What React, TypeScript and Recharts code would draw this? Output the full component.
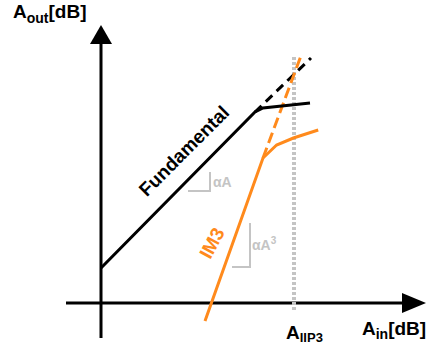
import { LineChart, Line, XAxis, YAxis, ReferenceLine, ReferenceDot } from "recharts";

// input/output levels in dB
const fundIn = [0, 38.5, 40.5, 52.25];
const fundOut = [8.75, 47.75, 48.75, 50];
const fundExtIn = [38.5, 52.5];
const fundExtOut = [47.75, 61.25];

const im3In = [26, 40.5, 43.9, 48.1, 54.3];
const im3Out = [-4.5, 36.25, 39.5, 41.25, 43.25];
const im3ExtIn = [40.5, 50.25];
const im3ExtOut = [36.25, 62.5];

const iip3 = 48.25;

const pts = (xs: number[], ys: number[]) => xs.map((x, i) => ({ x, y: ys[i] }));

const fundamental = pts(fundIn, fundOut);
const fundamentalExt = pts(fundExtIn, fundExtOut);
const im3 = pts(im3In, im3Out);
const im3Ext = pts(im3ExtIn, im3ExtOut);

const FONT = "'Liberation Sans', Arial, sans-serif";
const ORANGE = "#ff8a1c";
const GREY = "#c4c4c4";

const note = (key: string, x: number, y: number, draw: (cx: number, cy: number) => any) => (
  <ReferenceDot
    key={key}
    x={x}
    y={y}
    r={0}
    ifOverflow="visible"
    shape={(p: any) => draw(p.cx, p.cy)}
  />
);

// small "L" marker: vertical leg at x from y1 down to y0, then back to xl
const corner = (key: string, x: number, y0: number, y1: number, xl: number) => [
  <ReferenceLine key={key + "v"} segment={[{ x, y: y1 }, { x, y: y0 }]} stroke={GREY} strokeWidth={2} ifOverflow="visible" />,
  <ReferenceLine key={key + "h"} segment={[{ x: xl, y: y0 }, { x: x + 0.25, y: y0 }]} stroke={GREY} strokeWidth={2} ifOverflow="visible" />,
];

export default function App() {
  return (
    <div style={{ position: "absolute", left: 0, top: 0, background: "#fff" }}>
      <LineChart width={433} height={347} margin={{ top: 19, right: 4, bottom: 8, left: 61 }}>
        <XAxis type="number" dataKey="x" domain={[-10, 82]} hide />
        <YAxis type="number" dataKey="y" domain={[-9, 71]} hide />

        {/* axes */}
        <ReferenceLine segment={[{ x: -8.75, y: 0 }, { x: 76.5, y: 0 }]} stroke="#000" strokeWidth={3} ifOverflow="visible" />
        <ReferenceLine segment={[{ x: 0, y: -8.75 }, { x: 0, y: 65.5 }]} stroke="#000" strokeWidth={3} ifOverflow="visible" />
        {note("ya", 0, 69.5, (cx, cy) => (
          <polygon points={`${cx},${cy} ${cx - 11},${cy + 19} ${cx + 11},${cy + 19}`} fill="#000" />
        ))}
        {note("xa", 81.25, 0, (cx, cy) => (
          <polygon points={`${cx},${cy} ${cx - 24},${cy - 10} ${cx - 24},${cy + 10}`} fill="#000" />
        ))}

        {/* IIP3 marker */}
        <ReferenceLine segment={[{ x: iip3, y: -1.75 }, { x: iip3, y: 62 }]} stroke={GREY} strokeWidth={4} strokeDasharray="3 2" ifOverflow="visible" />

        {/* slope markers */}
        {corner("c1", 27.25, 28, 32.75, 21.75)}
        {corner("c3", 37.25, 9, 20, 32.75)}

        <Line data={fundamentalExt} dataKey="y" stroke="#000" strokeWidth={3} strokeDasharray="9 6" dot={false} isAnimationActive={false} />
        <Line data={im3Ext} dataKey="y" stroke={ORANGE} strokeWidth={3} strokeDasharray="11 5" dot={false} isAnimationActive={false} />
        <Line data={fundamental} dataKey="y" stroke="#000" strokeWidth={3} dot={false} isAnimationActive={false} />
        <Line data={im3} dataKey="y" stroke={ORANGE} strokeWidth={3} dot={false} isAnimationActive={false} />

        {note("fl", 20.75, 38, (cx, cy) => (
          <text x={cx} y={cy} transform={`rotate(-45 ${cx} ${cy})`} textAnchor="middle" dominantBaseline="central"
            fontFamily={FONT} fontWeight="bold" fontSize={19} fill="#000">Fundamental</text>
        ))}
        {note("il", 27.75, 15, (cx, cy) => (
          <text x={cx} y={cy} transform={`rotate(-62 ${cx} ${cy})`} textAnchor="middle" dominantBaseline="central"
            fontFamily={FONT} fontWeight="bold" fontSize={19} fill={ORANGE}>IM3</text>
        ))}
        {note("s1", 28, 29, (cx, cy) => (
          <text x={cx} y={cy} fontFamily={FONT} fontWeight="bold" fontSize={14} fill={GREY}>αA</text>
        ))}
        {note("s3", 37.75, 13.25, (cx, cy) => (
          <text x={cx} y={cy} fontFamily={FONT} fontWeight="bold" fontSize={14} fill={GREY}>
            αA<tspan fontSize={10} dy={-6}>3</tspan>
          </text>
        ))}

        {note("yl", -22, 71.25, (cx, cy) => (
          <text x={cx} y={cy} fontFamily={FONT} fontWeight="bold" fontSize={19} fill="#000">
            A<tspan fontSize={14} dy={5}>out</tspan><tspan dy={-5}>[dB]</tspan>
          </text>
        ))}
        {note("xl", 65.25, -8, (cx, cy) => (
          <text x={cx} y={cy} fontFamily={FONT} fontWeight="bold" fontSize={19} fill="#000">
            A<tspan fontSize={14} dy={4}>in</tspan><tspan dy={-4}>[dB]</tspan>
          </text>
        ))}
        {note("ipl", 46.25, -9, (cx, cy) => (
          <text x={cx} y={cy} fontFamily={FONT} fontWeight="bold" fontSize={19} fill="#000">
            A<tspan fontSize={13} dy={3}>IIP3</tspan>
          </text>
        ))}
      </LineChart>
    </div>
  );
}
